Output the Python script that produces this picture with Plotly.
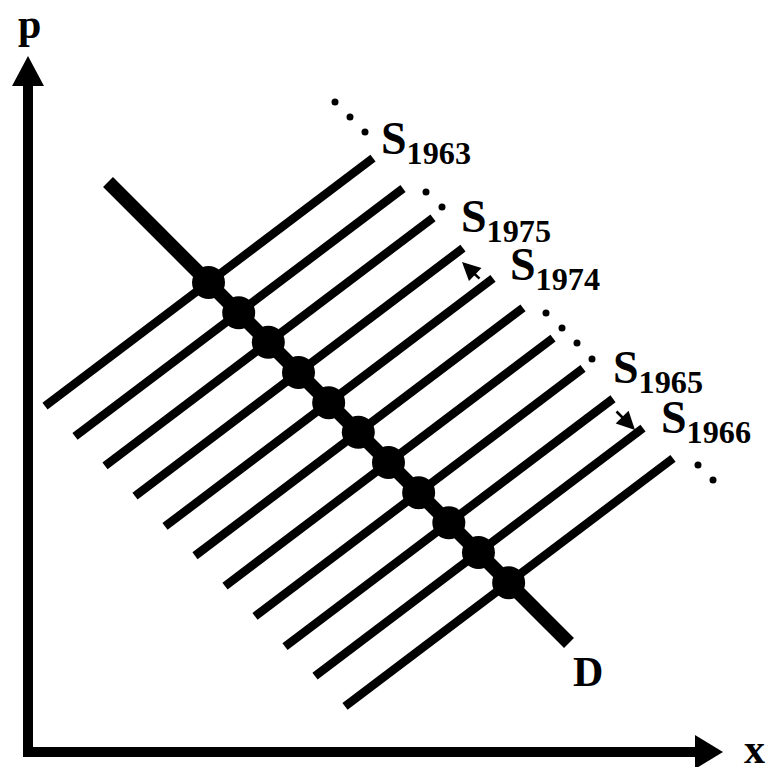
import plotly.graph_objects as go

# ---- data (units: 1 = 10 px of the reference) ----
supply_intercepts = [33.3, 28.0, 22.8, 17.5, 12.2, 7.0, 1.7, -3.6, -8.9, -14.1, -19.4]
supply_slope = 0.756
supply_x_start = [1.7, 4.7, 7.7, 10.7, 13.7, 16.7, 19.7, 22.7, 25.7, 28.7, 31.7]
supply_x_end = [34.5, 37.5, 40.5, 43.5, 46.5, 49.5, 52.5, 55.5, 58.5, 61.5, 64.5]

demand_intercept = 65.0
demand_slope = -1.0
demand_x = [8.0, 54.1]

label_years = ["1963", "1975", "1974", "1965", "1966"]
label_x = [35.5, 43.5, 48.4, 58.7, 63.5]
label_p = [59.3, 51.5, 46.7, 36.4, 31.4]

ellipsis_x = [30.7, 32.2, 33.7, 39.8, 41.4, 51.8, 53.4, 54.9, 56.4, 67.0, 68.5]
ellipsis_p = [65.0, 63.5, 62.0, 56.0, 54.5, 43.9, 42.4, 40.9, 39.3, 28.7, 27.2]

shift_arrow_from_x = [45.3, 58.7]
shift_arrow_from_p = [47.2, 34.2]
shift_arrow_to_x = [43.4, 60.7]
shift_arrow_to_p = [49.0, 32.2]

axis_len_x = 66.7
axis_len_p = 66.6
arrow_tip_x = 69.5
arrow_tip_p = 69.6

FONT = "Liberation Serif"

fig = go.Figure()

# supply lines
for a, x0, x1 in zip(supply_intercepts, supply_x_start, supply_x_end):
    fig.add_trace(go.Scatter(
        x=[x0, x1], y=[a + supply_slope * x0, a + supply_slope * x1],
        mode="lines", line=dict(color="black", width=8.5),
        hoverinfo="skip", showlegend=False))

# demand line
fig.add_trace(go.Scatter(
    x=demand_x, y=[demand_intercept + demand_slope * v for v in demand_x],
    mode="lines", line=dict(color="black", width=14),
    hoverinfo="skip", showlegend=False))

# equilibrium points
eq_x = [(demand_intercept - a) / (supply_slope - demand_slope) for a in supply_intercepts]
eq_p = [demand_intercept + demand_slope * v for v in eq_x]
fig.add_trace(go.Scatter(
    x=eq_x, y=eq_p, mode="markers",
    marker=dict(color="black", size=33, line=dict(width=0)),
    hoverinfo="skip", showlegend=False))

# ellipsis dots
fig.add_trace(go.Scatter(
    x=ellipsis_x, y=ellipsis_p, mode="markers",
    marker=dict(color="black", size=7, line=dict(width=0)),
    hoverinfo="skip", showlegend=False))

# axes (L shape)
fig.add_trace(go.Scatter(
    x=[0, 0, axis_len_x], y=[axis_len_p, 0, 0], mode="lines",
    line=dict(color="black", width=10),
    hoverinfo="skip", showlegend=False))
# arrow heads
fig.add_trace(go.Scatter(
    x=[-1.6, 1.6, 0, -1.6], y=[axis_len_p, axis_len_p, arrow_tip_p, axis_len_p],
    mode="lines", fill="toself", fillcolor="black", line=dict(color="black", width=0),
    hoverinfo="skip", showlegend=False))
fig.add_trace(go.Scatter(
    x=[axis_len_x, axis_len_x, arrow_tip_x, axis_len_x], y=[-1.7, 1.7, 0, -1.7],
    mode="lines", fill="toself", fillcolor="black", line=dict(color="black", width=0),
    hoverinfo="skip", showlegend=False))

annotations = []
for yr, lx, lp in zip(label_years, label_x, label_p):
    annotations.append(dict(
        x=lx, y=lp, xref="x", yref="y", xanchor="left", yanchor="bottom",
        text=f"<b>S<sub>{yr}</sub></b>", showarrow=False,
        font=dict(family=FONT, size=46, color="black"), borderpad=0, yshift=-13, xshift=-3))

for fx, fp, tx, tp in zip(shift_arrow_from_x, shift_arrow_from_p, shift_arrow_to_x, shift_arrow_to_p):
    annotations.append(dict(
        x=tx, y=tp, ax=fx, ay=fp, xref="x", yref="y", axref="x", ayref="y",
        text="", showarrow=True, arrowhead=2, arrowsize=1.4, arrowwidth=2.6,
        arrowcolor="black", standoff=0, startstandoff=0))

annotations.append(dict(x=0.1, y=72.8, xref="x", yref="y", text="<b>p</b>", showarrow=False,
                        font=dict(family=FONT, size=42, color="black")))
annotations.append(dict(x=72.6, y=0.3, xref="x", yref="y", text="<b>x</b>", showarrow=False,
                        font=dict(family=FONT, size=42, color="black")))
annotations.append(dict(x=56.0, y=8.0, xref="x", yref="y", text="<b>D</b>", showarrow=False,
                        font=dict(family=FONT, size=42, color="black")))

fig.update_layout(
    width=769, height=767,
    margin=dict(l=0, r=0, t=0, b=0),
    paper_bgcolor="white", plot_bgcolor="white",
    xaxis=dict(range=[-2.8, 74.1], visible=False, fixedrange=True),
    yaxis=dict(range=[-1.5, 75.2], visible=False, fixedrange=True),
    annotations=annotations,
    showlegend=False,
)

fig.write_html("out.html", config={"displayModeBar": False},
               post_script="document.body.style.margin='0';document.body.style.overflow='hidden';")
